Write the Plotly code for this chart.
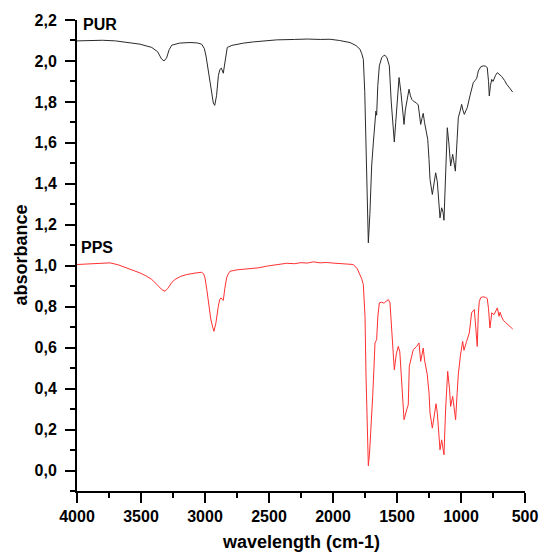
import plotly.graph_objects as go

# ---- data ----
pur_wavenumber = [4000, 3900, 3800, 3700, 3600, 3508, 3416, 3370, 3340, 3320, 3300, 3280, 3260, 3200, 3117, 3060,
                  3026, 3005, 2992, 2970, 2950, 2935, 2924, 2910, 2895, 2883, 2872, 2865, 2857, 2845, 2835, 2826,
                  2790, 2753, 2700, 2623, 2540, 2440, 2300, 2200, 2100, 2023, 1950, 1900, 1867, 1820, 1789, 1775,
                  1763, 1752, 1742, 1733, 1724, 1712, 1698, 1685, 1672, 1665, 1659, 1650, 1638, 1620, 1605, 1594,
                  1578, 1560, 1545, 1530, 1521, 1510, 1495, 1484, 1470, 1455, 1445, 1435, 1424, 1415, 1406, 1395,
                  1385, 1365, 1352, 1334, 1325, 1315, 1305, 1295, 1285, 1273, 1260, 1250, 1242, 1224, 1210, 1198,
                  1185, 1177, 1164, 1151, 1140, 1133, 1120, 1107, 1095, 1081, 1065, 1055, 1044, 1030, 1021, 1005,
                  995, 985, 974, 960, 951, 930, 904, 890, 878, 870, 865, 845, 826, 810, 795, 785, 779, 770, 760,
                  750, 747, 730, 716, 700, 682, 660, 643, 620, 604, 596]
pur_absorbance = [2.098, 2.100, 2.101, 2.098, 2.090, 2.082, 2.066, 2.045, 2.010, 2.000, 2.015, 2.055, 2.077, 2.087,
                  2.090, 2.088, 2.082, 2.060, 2.024, 1.930, 1.840, 1.795, 1.783, 1.830, 1.930, 1.959, 1.965, 1.948,
                  1.940, 1.990, 2.045, 2.066, 2.076, 2.082, 2.087, 2.093, 2.098, 2.103, 2.105, 2.107, 2.105, 2.106,
                  2.100, 2.095, 2.090, 2.075, 2.057, 2.035, 2.008, 1.850, 1.568, 1.300, 1.112, 1.250, 1.487, 1.600,
                  1.739, 1.755, 1.735, 1.880, 1.976, 2.015, 2.026, 2.028, 2.015, 1.976, 1.800, 1.660, 1.604, 1.700,
                  1.850, 1.919, 1.850, 1.730, 1.690, 1.760, 1.797, 1.820, 1.862, 1.830, 1.813, 1.800, 1.797, 1.785,
                  1.740, 1.690, 1.720, 1.744, 1.700, 1.651, 1.617, 1.520, 1.421, 1.348, 1.400, 1.454, 1.410, 1.330,
                  1.234, 1.283, 1.260, 1.222, 1.450, 1.674, 1.600, 1.487, 1.544, 1.510, 1.462, 1.620, 1.723, 1.760,
                  1.788, 1.760, 1.739, 1.760, 1.772, 1.830, 1.894, 1.905, 1.914, 1.935, 1.951, 1.972, 1.976, 1.975,
                  1.968, 1.900, 1.829, 1.880, 1.910, 1.900, 1.905, 1.930, 1.943, 1.935, 1.924, 1.905, 1.886, 1.868,
                  1.853, 1.848]

pps_wavenumber = [4000, 3900, 3800, 3742, 3680, 3612, 3560, 3508, 3460, 3416, 3370, 3340, 3313, 3290, 3260, 3234,
                  3190, 3143, 3080, 3026, 3010, 3000, 2985, 2974, 2955, 2940, 2930, 2915, 2905, 2896, 2885, 2875,
                  2866, 2857, 2845, 2831, 2818, 2805, 2750, 2648, 2580, 2518, 2440, 2362, 2300, 2250, 2200, 2154,
                  2100, 2050, 2000, 1920, 1867, 1841, 1810, 1789, 1775, 1763, 1750, 1742, 1733, 1724, 1715, 1706,
                  1690, 1680, 1672, 1659, 1650, 1638, 1620, 1605, 1599, 1585, 1568, 1555, 1541, 1530, 1521, 1505,
                  1490, 1478, 1471, 1458, 1445, 1424, 1412, 1404, 1390, 1373, 1346, 1328, 1315, 1305, 1295, 1285,
                  1276, 1264, 1250, 1242, 1224, 1210, 1195, 1185, 1177, 1164, 1151, 1140, 1133, 1120, 1104, 1090,
                  1081, 1065, 1055, 1042, 1030, 1021, 1005, 987, 977, 966, 956, 935, 925, 917, 905, 896, 885, 873,
                  865, 857, 845, 831, 810, 795, 785, 774, 765, 760, 742, 730, 716, 703, 695, 682, 669, 650, 630,
                  610, 596]
pps_absorbance = [1.006, 1.010, 1.013, 1.014, 1.005, 0.990, 0.978, 0.965, 0.950, 0.933, 0.905, 0.885, 0.875, 0.890,
                  0.918, 0.933, 0.948, 0.957, 0.964, 0.968, 0.960, 0.941, 0.880, 0.819, 0.740, 0.700, 0.680, 0.720,
                  0.770, 0.802, 0.835, 0.843, 0.835, 0.831, 0.890, 0.941, 0.960, 0.973, 0.980, 0.985, 0.990, 0.998,
                  1.005, 1.012, 1.010, 1.015, 1.013, 1.019, 1.014, 1.016, 1.013, 1.011, 1.006, 1.006, 0.985, 0.957,
                  0.935, 0.908, 0.753, 0.460, 0.200, 0.023, 0.080, 0.166, 0.362, 0.500, 0.623, 0.639, 0.750, 0.819,
                  0.822, 0.818, 0.819, 0.826, 0.835, 0.820, 0.704, 0.600, 0.492, 0.570, 0.606, 0.580, 0.500, 0.350,
                  0.248, 0.297, 0.321, 0.509, 0.550, 0.590, 0.606, 0.623, 0.533, 0.570, 0.598, 0.540, 0.501, 0.470,
                  0.380, 0.281, 0.207, 0.270, 0.326, 0.280, 0.200, 0.101, 0.150, 0.110, 0.077, 0.300, 0.484, 0.400,
                  0.313, 0.362, 0.320, 0.248, 0.380, 0.468, 0.560, 0.631, 0.587, 0.615, 0.631, 0.672, 0.720, 0.770,
                  0.780, 0.786, 0.700, 0.606, 0.760, 0.826, 0.845, 0.848, 0.846, 0.840, 0.790, 0.696, 0.740, 0.770,
                  0.761, 0.780, 0.794, 0.753, 0.773, 0.750, 0.733, 0.722, 0.712, 0.700, 0.691]

x_tickvals = [4000, 3500, 3000, 2500, 2000, 1500, 1000, 500]
x_ticktext = ["4000", "3500", "3000", "2500", "2000", "1500", "1000", "500"]
y_tickvals = [0.0, 0.2, 0.4, 0.6, 0.8, 1.0, 1.2, 1.4, 1.6, 1.8, 2.0, 2.2]
y_ticktext = ["0,0", "0,2", "0,4", "0,6", "0,8", "1,0", "1,2", "1,4", "1,6", "1,8", "2,0", "2,2"]

FONT = "Arial, Liberation Sans, sans-serif"

fig = go.Figure()
fig.add_trace(go.Scatter(x=pur_wavenumber, y=pur_absorbance, mode="lines",
                         line=dict(color="#2a2a2a", width=1), name="PUR", showlegend=False))
fig.add_trace(go.Scatter(x=pps_wavenumber, y=pps_absorbance, mode="lines",
                         line=dict(color="#ff3030", width=1), name="PPS", showlegend=False))

axis_common = dict(showgrid=False, zeroline=False, showline=True, linecolor="black", linewidth=2,
                   ticks="outside", ticklen=10, tickwidth=2, tickcolor="black", automargin=False,
                   ticklabeloverflow="allow",
                   tickfont=dict(family=FONT, size=16, color="black", weight="bold"))

fig.update_xaxes(range=[4000, 500], tickmode="array", tickvals=x_tickvals, ticktext=x_ticktext,
                 minor=dict(ticks="outside", ticklen=5, tickwidth=2, tickcolor="black", dtick=250, tick0=500),
                 **axis_common)
fig.update_yaxes(range=[-0.1, 2.2], tickmode="array", tickvals=y_tickvals, ticktext=y_ticktext,
                 ticklabelstandoff=5,
                 minor=dict(ticks="outside", ticklen=5, tickwidth=2, tickcolor="black", dtick=0.1, tick0=0),
                 **axis_common)

fig.add_annotation(x=3965, y=2.176, xref="x", yref="y", text="<b>PUR</b>", showarrow=False,
                   xanchor="left", yanchor="middle", font=dict(family=FONT, size=16, color="black"))
fig.add_annotation(x=3985, y=1.089, xref="x", yref="y", text="<b>PPS</b>", showarrow=False,
                   xanchor="left", yanchor="middle", font=dict(family=FONT, size=16, color="black"))
fig.add_annotation(x=0.5, y=0, xref="paper", yref="paper", text="<b>wavelength (cm-1)</b>", showarrow=False,
                   xanchor="center", yanchor="middle", yshift=-51, font=dict(family=FONT, size=18, color="black"))
fig.add_annotation(x=0, y=0.5, xref="paper", yref="paper", text="<b>absorbance</b>", showarrow=False,
                   textangle=-90, xanchor="center", yanchor="middle", xshift=-57,
                   font=dict(family=FONT, size=18, color="black"))

fig.update_layout(width=541, height=552, margin=dict(l=77, r=16, t=20, b=61, autoexpand=False),
                  plot_bgcolor="white", paper_bgcolor="white", showlegend=False)

# remove the default page margin so the figure fills the 541x552 window exactly
fig.write_html("out.html", config={"displayModeBar": False},
               post_script="document.body.style.margin='0';document.body.style.overflow='hidden';")
